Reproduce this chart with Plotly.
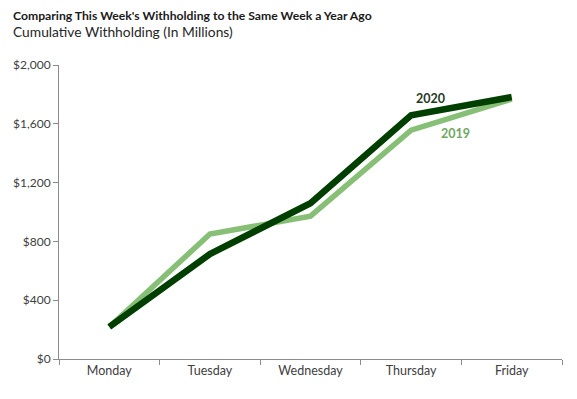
import plotly.graph_objects as go

days = ["Monday", "Tuesday", "Wednesday", "Thursday", "Friday"]
withholding_2019 = [218, 850, 972, 1557, 1768]
withholding_2020 = [218, 714, 1060, 1658, 1782]
y_ticks = [0, 400, 800, 1200, 1600, 2000]
y_tick_labels = [f"${v:,}" for v in y_ticks]

FONT = "Lato, Calibri, Carlito, sans-serif"

fig = go.Figure()
fig.add_trace(go.Scatter(x=days, y=withholding_2019, mode="lines", name="2019",
                         line=dict(color="#86BF75", width=5.5)))
fig.add_trace(go.Scatter(x=days, y=withholding_2020, mode="lines", name="2020",
                         line=dict(color="#003F00", width=6.5)))

fig.update_layout(
    width=577, height=399,
    margin=dict(l=59, r=15, t=65, b=40),
    paper_bgcolor="white", plot_bgcolor="white",
    showlegend=False,
    font=dict(family=FONT, size=12, color="#404040"),
    xaxis=dict(type="category", range=[-0.5, 4.5], showgrid=False,
               showline=True, linecolor="#8C8C8C", linewidth=1,
               ticks="outside", tickson="boundaries", ticklen=5, tickcolor="#8C8C8C",
               tickfont=dict(family=FONT, size=12.5, color="#404040")),
    yaxis=dict(range=[0, 2000], tickvals=y_ticks, ticktext=y_tick_labels,
               showgrid=False, zeroline=False,
               showline=True, linecolor="#8C8C8C", linewidth=1,
               ticks="outside", ticklen=5, tickcolor="#8C8C8C",
               tickfont=dict(family=FONT, size=12, color="#404040")),
    annotations=[
        dict(text="<b>Comparing This Week's Withholding to the Same Week a Year Ago</b>",
             xref="paper", yref="paper", x=-48/503, y=1 + 50/294, xanchor="left", yanchor="middle",
             showarrow=False, font=dict(family=FONT, size=12.2, color="#1a1a1a")),
        dict(text="Cumulative Withholding (In Millions)",
             xref="paper", yref="paper", x=-48/503, y=1 + 33/294, xanchor="left", yanchor="middle",
             showarrow=False, font=dict(family=FONT, size=13.8, color="#262626")),
        dict(text="<b>2020</b>", xref="paper", yref="paper", x=(430-59)/503, y=(359-98)/294,
             xanchor="center", yanchor="middle", showarrow=False,
             font=dict(family=FONT, size=12.5, color="#1F3A1F")),
        dict(text="<b>2019</b>", xref="paper", yref="paper", x=(455-59)/503, y=(359-133)/294,
             xanchor="center", yanchor="middle", showarrow=False,
             font=dict(family=FONT, size=12.5, color="#6FA860")),
    ],
)

fig.write_html("out.html", config={"displayModeBar": False},
               post_script="document.body.style.margin='0';document.body.style.overflow='hidden';")
